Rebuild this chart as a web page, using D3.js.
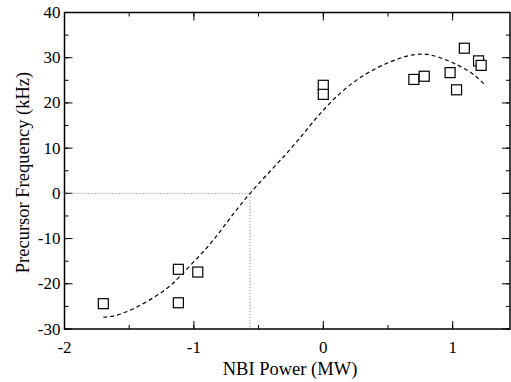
<!DOCTYPE html>
<html>
<head>
<meta charset="utf-8">
<script src="https://cdn.jsdelivr.net/npm/d3@7"></script>
<style>
  html, body { margin: 0; padding: 0; background: #fff; }
  svg { display: block; }
</style>
</head>
<body>
<div id="chart"></div>
<script>
// measured points: NBI power (MW) vs precursor frequency (kHz)
const powerMW = [-1.70, -1.12, -1.12, -0.97, 0.0, 0.0, 0.70, 0.78, 0.98, 1.03, 1.09, 1.20, 1.22];
const freqKHz = [-24.4, -16.8, -24.2, -17.4, 23.9, 21.9, 25.2, 25.9, 26.7, 22.9, 32.1, 29.3, 28.3];

// dashed fit curve
const fitX = [-1.70, -1.52, -1.26, -1.11, -0.95, -0.80, -0.566, -0.26, 0.0, 0.26, 0.52, 0.75, 0.95, 1.13, 1.25];
const fitY = [-27.4, -26.2, -22.1, -18.4, -13.6, -8.5, 0.0, 9.6, 18.4, 25.1, 29.1, 30.8, 29.5, 26.9, 24.0];

// zero crossing marker
const crossX = -0.566;

const xTicks = [-2, -1, 0, 1];
const yTicks = [-30, -20, -10, 0, 10, 20, 30, 40];

const width = 511, height = 382;
const margin = { top: 12.5, right: 1, bottom: 53, left: 64.5 };
const serif = '"Liberation Serif", "Times New Roman", serif';

const svg = d3.select('#chart').append('svg')
  .attr('width', width)
  .attr('height', height);

const x = d3.scaleLinear().domain([-2, 1.443]).range([margin.left, width - margin.right]);
const y = d3.scaleLinear().domain([-30, 40]).range([height - margin.bottom, margin.top]);

const x0 = x.range()[0], x1 = x.range()[1];
const y0 = y.range()[0], y1 = y.range()[1];

// minor ticks every 0.5 / 5
const xMinor = d3.range(-2, 1.5, 0.5);
const yMinor = d3.range(-30, 41, 5);

const g = svg.append('g');

// ticks pointing inward on all four sides
function ticksX(vals, len) {
  vals.forEach(v => {
    g.append('line').attr('x1', x(v)).attr('x2', x(v)).attr('y1', y0).attr('y2', y0 - len)
      .attr('stroke', '#000').attr('stroke-width', 1);
    g.append('line').attr('x1', x(v)).attr('x2', x(v)).attr('y1', y1).attr('y2', y1 + len)
      .attr('stroke', '#000').attr('stroke-width', 1);
  });
}
function ticksY(vals, len) {
  vals.forEach(v => {
    g.append('line').attr('x1', x0).attr('x2', x0 + len).attr('y1', y(v)).attr('y2', y(v))
      .attr('stroke', '#000').attr('stroke-width', 1);
    g.append('line').attr('x1', x1).attr('x2', x1 - len).attr('y1', y(v)).attr('y2', y(v))
      .attr('stroke', '#000').attr('stroke-width', 1);
  });
}
ticksX(xMinor, 4);
ticksX(xTicks, 8);
ticksY(yMinor, 4);
ticksY(yTicks, 8);

// frame
g.append('rect')
  .attr('x', x0).attr('y', y1)
  .attr('width', x1 - x0).attr('height', y0 - y1)
  .attr('fill', 'none').attr('stroke', '#000').attr('stroke-width', 1.5);

// tick labels
g.selectAll('.xl').data(xTicks).join('text')
  .attr('x', d => x(d)).attr('y', y0 + 24)
  .attr('text-anchor', 'middle').attr('font-size', 17).attr('font-family', serif)
  .text(d => d);
g.selectAll('.yl').data(yTicks).join('text')
  .attr('x', x0 - 4).attr('y', d => y(d) + 5.5)
  .attr('text-anchor', 'end').attr('font-size', 17).attr('font-family', serif)
  .text(d => d);

// axis titles
svg.append('text')
  .attr('x', 290).attr('y', height - 7.5)
  .attr('text-anchor', 'middle').attr('font-size', 18.5).attr('font-family', serif)
  .text('NBI Power (MW)');
svg.append('text')
  .attr('transform', `translate(28.5,172.5) rotate(-90)`)
  .attr('text-anchor', 'middle').attr('font-size', 18.5).attr('font-family', serif)
  .text('Precursor Frequency (kHz)');

// dotted guides to the zero crossing
g.append('path')
  .attr('d', d3.line()([[x0, y(0)], [x(crossX), y(0)], [x(crossX), y0]]))
  .attr('fill', 'none').attr('stroke', '#777').attr('stroke-width', 1)
  .attr('stroke-dasharray', '1,2');

// dashed fit
const fit = fitX.map((v, i) => [v, fitY[i]]);
g.append('path')
  .attr('d', d3.line().x(d => x(d[0])).y(d => y(d[1])).curve(d3.curveNatural)(fit))
  .attr('fill', 'none').attr('stroke', '#000').attr('stroke-width', 1.2)
  .attr('stroke-dasharray', '4,3');

// data squares
const pts = powerMW.map((v, i) => [v, freqKHz[i]]);
g.selectAll('.pt').data(pts).join('rect')
  .attr('x', d => x(d[0]) - 5).attr('y', d => y(d[1]) - 5)
  .attr('width', 10).attr('height', 10)
  .attr('fill', '#fff').attr('stroke', '#000').attr('stroke-width', 1.2);
</script>
</body>
</html>
